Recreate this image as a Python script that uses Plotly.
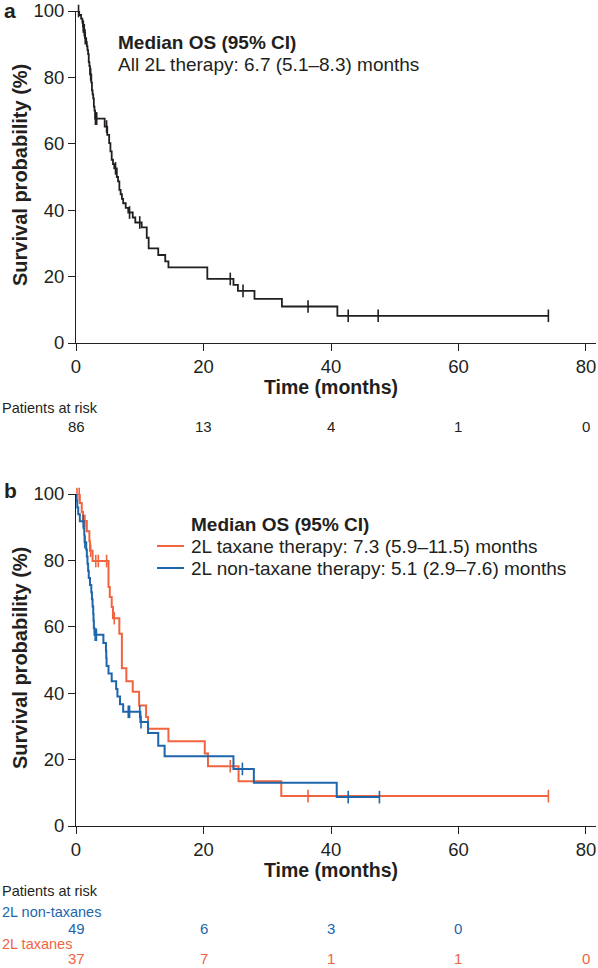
import plotly.graph_objects as go

W, H = 598, 968

# ---------------- data ----------------
# Panel a: all 2L therapy (step times in months, survival %)
a_t = [0, 0.5, 0.8, 1.0, 1.1, 1.2, 1.4, 1.6, 1.7, 1.8, 1.9, 2.0, 2.1, 2.2, 2.4, 2.5, 2.6, 2.7, 2.8, 2.9,
       3.0, 4.5, 4.9, 5.2, 5.4, 5.6, 5.8, 6.0, 6.4, 6.6, 6.8, 7.0, 7.2, 7.4, 7.8, 8.2, 8.9, 9.3, 10.3, 11.1,
       11.4, 12.9, 14.0, 14.5, 20.6, 24.7, 25.4, 28.0, 32.3, 41.0]
a_s = [100, 98.8, 97.7, 96.5, 95.3, 94.2, 91.8, 90.6, 89.4, 88.2, 87.0, 84.6, 83.4, 80.9, 78.5, 76.1, 74.9, 73.7, 71.2, 70.0,
       67.6, 65.2, 62.7, 60.2, 57.7, 55.2, 53.9, 52.6, 50.0, 48.7, 46.1, 44.8, 43.4, 42.1, 40.7, 39.3, 37.8, 36.3, 34.8, 31.7,
       28.5, 26.5, 24.6, 22.8, 19.3, 17.5, 15.7, 13.3, 11.0, 8.2]
a_cens = [0.4, 1.15, 1.3, 1.45, 2.3, 3.05, 3.15, 3.25, 4.8, 6.2, 8.4, 10.0, 24.2, 26.2, 36.4, 42.7, 47.4, 74.1]
a_end = 74.1

# Panel b: 2L non-taxane (blue)
b_t = [0, 0.05, 0.2, 0.35, 0.6, 1.2, 1.3, 1.35, 1.6, 1.7, 1.8, 1.9, 2.0, 2.2, 2.4, 2.5, 2.6, 2.7, 2.75, 2.8,
       2.9, 4.3, 4.7, 4.75, 4.8, 5.1, 5.6, 6.3, 6.5, 6.9, 7.4, 10.1, 11.3, 12.9, 13.9, 24.7, 27.9, 40.9]
b_s = [100, 98.0, 95.9, 93.9, 91.8, 89.7, 87.6, 85.5, 83.3, 81.2, 79.0, 76.9, 74.7, 72.6, 70.4, 68.3, 66.1, 63.9, 61.8, 59.6,
       57.6, 55.1, 52.8, 50.5, 48.2, 45.9, 43.6, 41.3, 39.0, 36.7, 34.4, 31.3, 28.0, 24.2, 21.0, 17.2, 13.0, 8.7]
b_cens = [1.15, 1.4, 3.0, 3.2, 8.2, 8.4, 10.0, 10.2, 26.1, 42.7, 47.6]
b_end = 47.6

# Panel b: 2L taxane (orange)
o_t = [0, 0.6, 0.9, 1.1, 1.7, 2.1, 2.2, 2.6, 5.1, 5.3, 5.6, 5.8, 6.8, 7.2, 7.9, 8.9, 9.9, 11.0, 11.3, 14.5,
       20.2, 20.7, 25.5, 32.2]
o_s = [100, 97.3, 94.6, 91.9, 88.8, 85.8, 82.9, 79.8, 72.0, 69.0, 66.0, 62.6, 57.9, 47.5, 43.6, 40.4, 36.3, 32.8, 29.3, 25.5,
       21.8, 18.0, 13.5, 9.0]
o_cens = [0.15, 0.5, 1.4, 2.3, 3.1, 3.5, 4.8, 6.0, 24.2, 36.4, 74.1]
o_end = 74.1

risk_times = [0, 20, 40, 60, 80]
risk_all = [86, 13, 4, 1, 0]
risk_nontax = [49, 6, 3, 0]
risk_tax = [37, 7, 1, 1, 0]

x_ticks = [0, 20, 40, 60, 80]
y_ticks = [0, 20, 40, 60, 80, 100]

BLACK = "#231f20"
ORANGE = "#F0643F"
BLUE = "#1D66AC"
FONT = "Liberation Sans, Arial, sans-serif"


def px(x):
    return x / W


def py(y):
    return 1 - y / H


def surv_at(t, times, surv):
    v = surv[0]
    for tt, ss in zip(times, surv):
        if tt <= t:
            v = ss
        else:
            break
    return v


fig = go.Figure()


def add_curve(times, surv, end, cens, color, width, xa, ya):
    fig.add_trace(go.Scatter(
        x=times + [end], y=surv + [surv[-1]], mode="lines",
        line=dict(color=color, width=width, shape="hv"),
        xaxis=xa, yaxis=ya, showlegend=False, hoverinfo="skip", cliponaxis=False))
    fig.add_trace(go.Scatter(
        x=cens, y=[surv_at(c, times, surv) for c in cens], mode="markers",
        marker=dict(symbol="line-ns", size=9, line=dict(color=color, width=1.6)),
        xaxis=xa, yaxis=ya, showlegend=False, hoverinfo="skip", cliponaxis=False))


add_curve(a_t, a_s, a_end, a_cens, BLACK, 1.8, "x", "y")
add_curve(o_t, o_s, o_end, o_cens, ORANGE, 2.0, "x2", "y2")
add_curve(b_t, b_s, b_end, b_cens, BLUE, 2.0, "x2", "y2")

axis_common = dict(
    showgrid=False, zeroline=False, showline=True, linecolor=BLACK, linewidth=1,
    ticks="outside", ticklen=7, tickwidth=1, tickcolor=BLACK, automargin=False,
    tickfont=dict(family=FONT, size=18.5, color=BLACK), fixedrange=True,
)
XR = [0, 81.57]
fig.update_layout(
    width=W, height=H, margin=dict(l=0, r=0, t=0, b=0, autoexpand=False),
    paper_bgcolor="white", plot_bgcolor="white", showlegend=False,
    xaxis=dict(domain=[px(76), px(596)], range=XR, tickvals=x_ticks, anchor="y", **axis_common),
    yaxis=dict(domain=[py(343), py(11)], range=[0, 100], tickvals=y_ticks, anchor="x", **axis_common),
    xaxis2=dict(domain=[px(76), px(596)], range=XR, tickvals=x_ticks, anchor="y2", **axis_common),
    yaxis2=dict(domain=[py(826), py(494)], range=[0, 100], tickvals=y_ticks, anchor="x2", **axis_common),
)

ann = []


def text(x, y, s, size=19, color=BLACK, xanchor="left", bold=False, angle=0, xref="paper"):
    ann.append(dict(
        x=x if xref != "paper" else px(x), y=py(y), xref=xref, yref="paper",
        text=f"<b>{s}</b>" if bold else s, showarrow=False,
        font=dict(family=FONT, size=size, color=color),
        xanchor=xanchor, yanchor="middle", textangle=angle))


# panel labels
text(2, 11, "a", size=21, bold=True)
text(2, 490, "b", size=21, bold=True)

# axis titles
text(20, 175, "Survival probability (%)", size=20, bold=True, angle=-90, xanchor="center")
text(20, 658, "Survival probability (%)", size=20, bold=True, angle=-90, xanchor="center")
text(40, 387, "Time (months)", size=19.5, bold=True, xanchor="center", xref="x")
text(40, 870, "Time (months)", size=19.5, bold=True, xanchor="center", xref="x2")

# panel a annotation
text(116, 42, "Median OS (95% CI)", size=19, bold=True)
text(116, 64, "All 2L therapy: 6.7 (5.1–8.3) months", size=19)

# panel b legend
text(189, 524, "Median OS (95% CI)", size=19, bold=True)
text(189, 546, "2L taxane therapy: 7.3 (5.9–11.5) months", size=19)
text(189, 568, "2L non-taxane therapy: 5.1 (2.9–7.6) months", size=19)
shapes = [
    dict(type="line", xref="paper", yref="paper", x0=px(157), x1=px(184), y0=py(546), y1=py(546),
         line=dict(color=ORANGE, width=2)),
    dict(type="line", xref="paper", yref="paper", x0=px(157), x1=px(184), y0=py(568), y1=py(568),
         line=dict(color=BLUE, width=2)),
]

# at-risk tables
text(0, 408, "Patients at risk", size=14.5)
for t, n in zip(risk_times, risk_all):
    text(t, 426, str(n), size=15, xanchor="center", xref="x")

text(0, 891, "Patients at risk", size=14.5)
text(0, 912, "2L non-taxanes", size=14.5, color=BLUE)
for t, n in zip(risk_times, risk_nontax):
    text(t, 928, str(n), size=15, xanchor="center", color=BLUE, xref="x2")
text(0, 944, "2L taxanes", size=14.5, color=ORANGE)
for t, n in zip(risk_times, risk_tax):
    text(t, 958, str(n), size=15, xanchor="center", color=ORANGE, xref="x2")

fig.update_layout(annotations=ann, shapes=shapes)
fig.write_html("out.html", config={"displayModeBar": False},
               post_script="document.body.style.margin='0';")
